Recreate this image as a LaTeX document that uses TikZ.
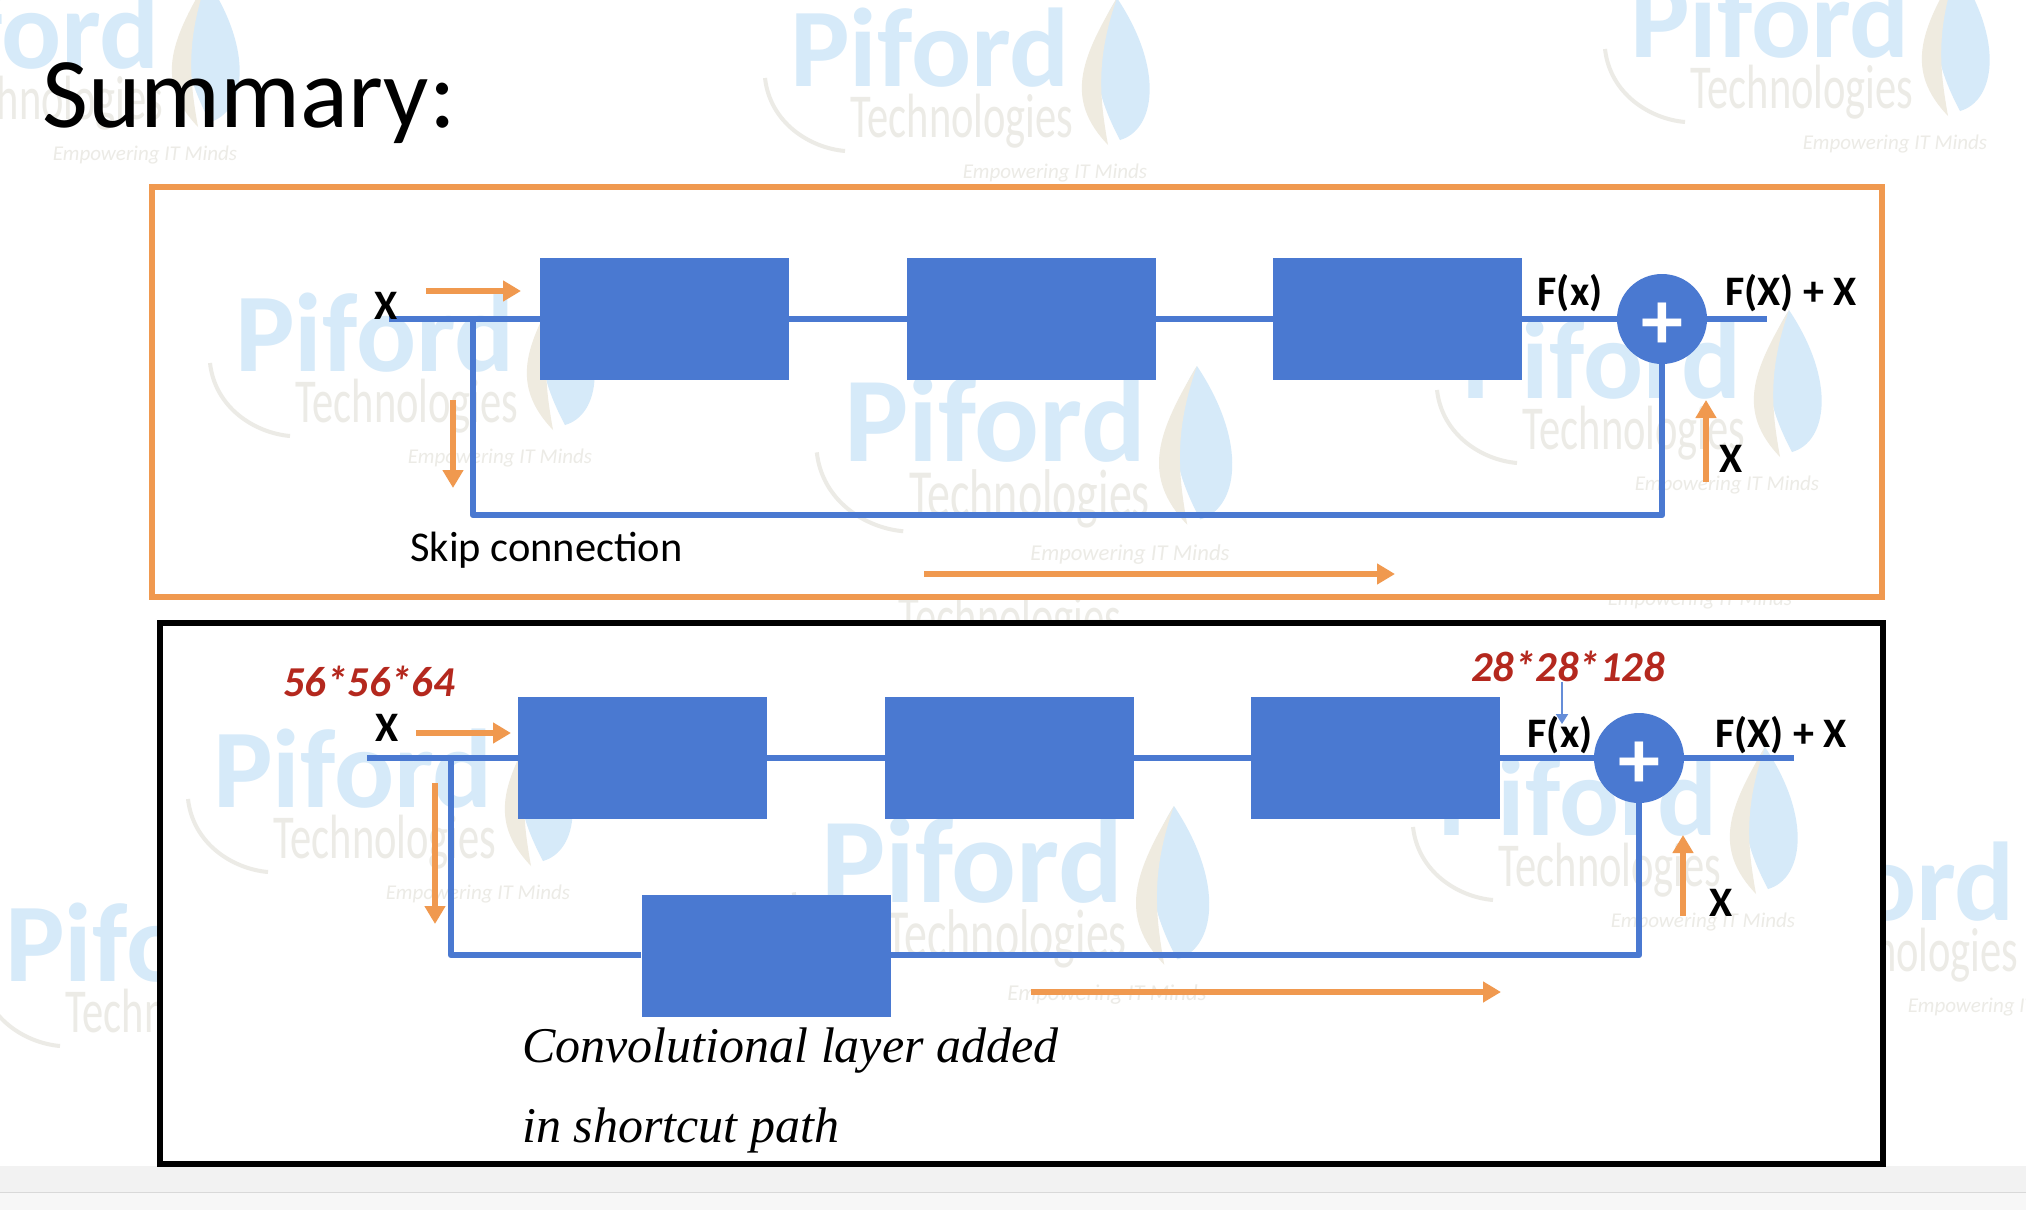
\documentclass[tikz,border=0pt]{standalone}
\usepackage{fontspec}
\setmainfont{Carlito}
\newfontfamily\handfont{Liberation Serif}
\usetikzlibrary{arrows.meta}
\definecolor{blockblue}{HTML}{4A79D1}
\definecolor{flowor}{HTML}{F0994F}
\definecolor{dimred}{HTML}{B4281E}
\definecolor{wmblue}{HTML}{D6EAF9}
\definecolor{wmsand}{HTML}{EFEBE0}
\definecolor{wmgrey}{HTML}{ECEBE6}
\tikzset{
  block/.style={fill=blockblue,minimum width=124.5pt,minimum height=61pt,inner sep=0pt},
  sumdot/.style={circle,fill=blockblue,minimum size=45pt,inner sep=0pt,text=white,font=\fontsize{42}{42}\selectfont\bfseries},
  wire/.style={draw=blockblue,line width=3.3pt},
  flow/.style={draw=flowor,line width=2.6pt,-{Triangle[width=10pt,length=9pt]}},
  lab/.style={font=\fontsize{21}{21}\selectfont\bfseries,inner sep=0pt},
  dim/.style={font=\fontsize{21.3}{21.3}\selectfont\bfseries\itshape,text=dimred,inner sep=0pt},
  wmpiford/.style={font=\fontsize{56}{56}\selectfont\bfseries,text=wmblue,inner sep=0pt,transform shape},
  wmtech/.style={font=\fontsize{25}{25}\selectfont,text=wmgrey,inner sep=0pt,transform shape,xscale=.85,yscale=1.25},
  wmsub/.style={font=\fontsize{10.5}{10.5}\selectfont\itshape,text=wmgrey,inner sep=0pt,transform shape},
}
% watermark: id, x, y of the word centre, size
\newcommand{\wmark}[4]{
\begin{scope}[shift={(#2,#3)},scale=#4]
\fill[wmblue](187,-50)..controls(160,-8)and(158,32)..(190,92)..controls(225,82)and(235,22)..(187,-50);
\fill[wmsand](187,-50)..controls(150,12)and(135,52)..(178,97)..controls(170,52)and(165,12)..(187,-50);
\draw[wmgrey,line width=2pt](-165,30)..controls(-160,75)and(-120,100)..(-85,103);
\node[wmpiford](wp#1)at(0,0){Piford};
\node[wmtech](wt#1)at(32,73){Technologies};
\node[wmsub](we#1)at(125,125){Empowering IT Minds};
\end{scope}
}
\begin{document}
\begin{tikzpicture}[x=.5pt,y=-.5pt]
\clip(0,0)rectangle(2026,1210);
\fill[white](0,0)rectangle(2026,1210);
% watermarks
\foreach \wn/\wx/\wy/\ws in {j/1875/882/1,k/145/943/1}
  {\wmark{\wn}{\wx}{\wy}{\ws}}
\fill[white](160,623)rectangle(1883,1164);
\foreach \wn/\wx/\wy/\ws in {a/20/30/1,b/930/48/1,c/1770/19/1,d/375/333/1,e/995/420/1.08,f/1602/360/1,g/353/769/1,h/972/860/1.08,i/1578/797/1}
  {\wmark{\wn}{\wx}{\wy}{\ws}}
\begin{scope}
\clip(0,599)rectangle(2026,620);
\node[wmtech](wtgap)at(1010,622){Technologies};
\node[wmsub](wegap)at(1700,600){Empowering IT Minds};
\end{scope}
\fill[black!5](0,1166)rectangle(2026,1192);
\fill[black!3](0,1193)rectangle(2026,1210);
\draw[black!15,line width=.6pt](0,1192.5)--(2026,1192.5);
% title
\node[anchor=base west,inner sep=0pt,font=\fontsize{50}{50}\selectfont](title)at(42,127){Summary:};
% upper panel
\draw[flowor,line width=2.6pt](152,187)rectangle(1882,597);
\node[block](blocka)at(664.5,319){};
\node[block](blockb)at(1031.5,319){};
\node[block](blockc)at(1397.5,319){};
\node[sumdot](suma)at(1662,319){\raisebox{-3.5pt}[\height][\depth]{+}};
\coordinate(ina)at(389,319);
\coordinate(brancha)at(473,319);
\coordinate(downa)at(473,515);
\coordinate(upa)at(1662,515);
\coordinate(outa)at(1767,319);
\draw[wire](ina)--(blocka);
\draw[wire](blocka)--(blockb);
\draw[wire](blockb)--(blockc);
\draw[wire](blockc)--(suma);
\draw[wire](suma)--(outa);
\draw[wire,line join=round](brancha)--(downa)--(upa)--(suma);
\node[lab](xa)at(386,306){X};
\node[lab](fxa)at(1570,293){F(x)};
\node[lab](fxxa)at(1791,293){F(X) + X};
\node[lab](xb)at(1731,459){X};
\node[anchor=base west,inner sep=0pt,font=\fontsize{21.2}{21.2}\selectfont](skip)at(410,561){Skip connection};
% lower panel
\draw[black,line width=2.6pt](160,623)rectangle(1883,1164);
\node[block](blockd)at(642.5,758){};
\node[block](blocke)at(1009.5,758){};
\node[block](blockf)at(1375.5,758){};
\node[block](blockg)at(766,956){};
\node[sumdot](sumb)at(1639,758){\raisebox{-3.5pt}[\height][\depth]{+}};
\coordinate(inb)at(367,758);
\coordinate(branchb)at(451,758);
\coordinate(downb)at(451,955);
\coordinate(upb)at(1639,955);
\coordinate(outb)at(1794,758);
\draw[wire](inb)--(blockd);
\draw[wire](blockd)--(blocke);
\draw[wire](blocke)--(blockf);
\draw[wire](blockf)--(sumb);
\draw[wire](sumb)--(outb);
\draw[wire,line join=round](branchb)--(downb)--(blockg.west|-downb);
\draw[wire,line join=round](blockg.east|-upb)--(upb)--(sumb);
\node[lab](xc)at(387,728){X};
\node[lab](fxb)at(1560,735){F(x)};
\node[lab](fxxb)at(1781,735){F(X) + X};
\node[lab](xd)at(1721,903){X};
\node[dim](dima)at(369,681){56*56*64};
\node[dim](dimb)at(1568,666){28*28*128};
\coordinate(tipb)at(1562,724);
\draw[blockblue!85,line width=1pt,-{Triangle[width=6pt,length=5pt]}](dimb.south-|tipb)--(tipb);
\node[anchor=north west,inner sep=0pt,align=left,font=\handfont\itshape\fontsize{25}{40}\selectfont](hint)at(522,1027){Convolutional layer added\\in shortcut path};
% flow arrows
\foreach \fn/\xa/\ya/\xb/\yb in {a/426/291/521/291,b/453/400/453/488,c/1706/482/1706/400,d/924/574/1395/574,e/416/733/511/733,f/435/783/435/924,g/1683/916/1683/835,h/1031/992/1501/992}
  {\coordinate(fs\fn)at(\xa,\ya);\coordinate(fe\fn)at(\xb,\yb);\draw[flow](fs\fn)--(fe\fn);}
\end{tikzpicture}
\end{document}
